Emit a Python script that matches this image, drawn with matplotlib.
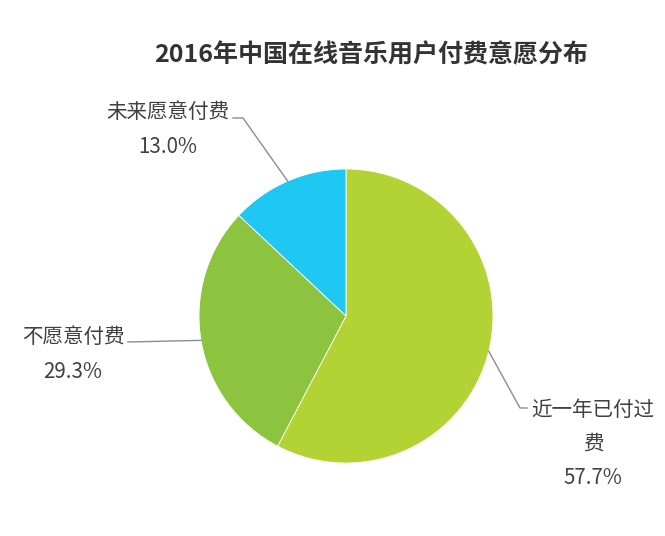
import numpy as np
import matplotlib.pyplot as plt

plt.rcParams['font.family'] = ['Noto Sans CJK SC', 'DejaVu Sans']

# dane z wykresu
kategorie = ['近一年已付过\n费', '不愿意付费', '未来愿意付费']
udzialy = [57.7, 29.3, 13.0]
kolory = ['#b3d334', '#8cc33f', '#1ec8f2']

W, H = 665, 536
fig = plt.figure(figsize=(W/100, H/100), dpi=100)
ax = fig.add_axes([0, 0, 1, 1])

cx, cy, r = 346, H - 316, 147
wedges, _ = ax.pie(udzialy, colors=kolory, startangle=90, counterclock=False,
                   center=(cx, cy), radius=r, frame=True,
                   wedgeprops=dict(edgecolor='white', linewidth=0.6))
ax.set_xlim(0, W)
ax.set_ylim(0, H)
ax.set_aspect('equal')
ax.axis('off')

ax.text(371, H - 55, '2016年中国在线音乐用户付费意愿分布', ha='center', va='center',
        fontsize=18, fontweight='bold', color='#333333')

# pozycje etykiet (w pikselach od gory) i lamane linii
etykiety = [
    dict(txt=(593, 410, 444), pct=478, knee=[(520, 408), (527, 408)]),
    dict(txt=(73, 337, None), pct=372, knee=[(128, 342)]),
    dict(txt=(168, 112, None), pct=147, knee=[(243, 118), (233, 118)]),
]

fs = 14.8
for w, kat, u, e in zip(wedges, kategorie, udzialy, etykiety):
    kat_sr = np.deg2rad((w.theta1 + w.theta2) / 2)
    px = cx + r * np.cos(kat_sr)
    py = cy + r * np.sin(kat_sr)
    xs = [px] + [k[0] for k in e['knee']]
    ys = [py] + [H - k[1] for k in e['knee']]
    ax.plot(xs, ys, color='#8c8c8c', lw=1)
    x, y1, y2 = e['txt']
    linie = kat.split('\n')
    ax.text(x, H - y1, linie[0], ha='center', va='center', fontsize=fs, color='#404040')
    if y2 is not None:
        ax.text(x, H - y2, linie[1], ha='center', va='center', fontsize=fs, color='#404040')
    ax.text(x, H - e['pct'], f'{u:.1f}%', ha='center', va='center', fontsize=fs, color='#404040')

fig.savefig('out.png', dpi=100)
